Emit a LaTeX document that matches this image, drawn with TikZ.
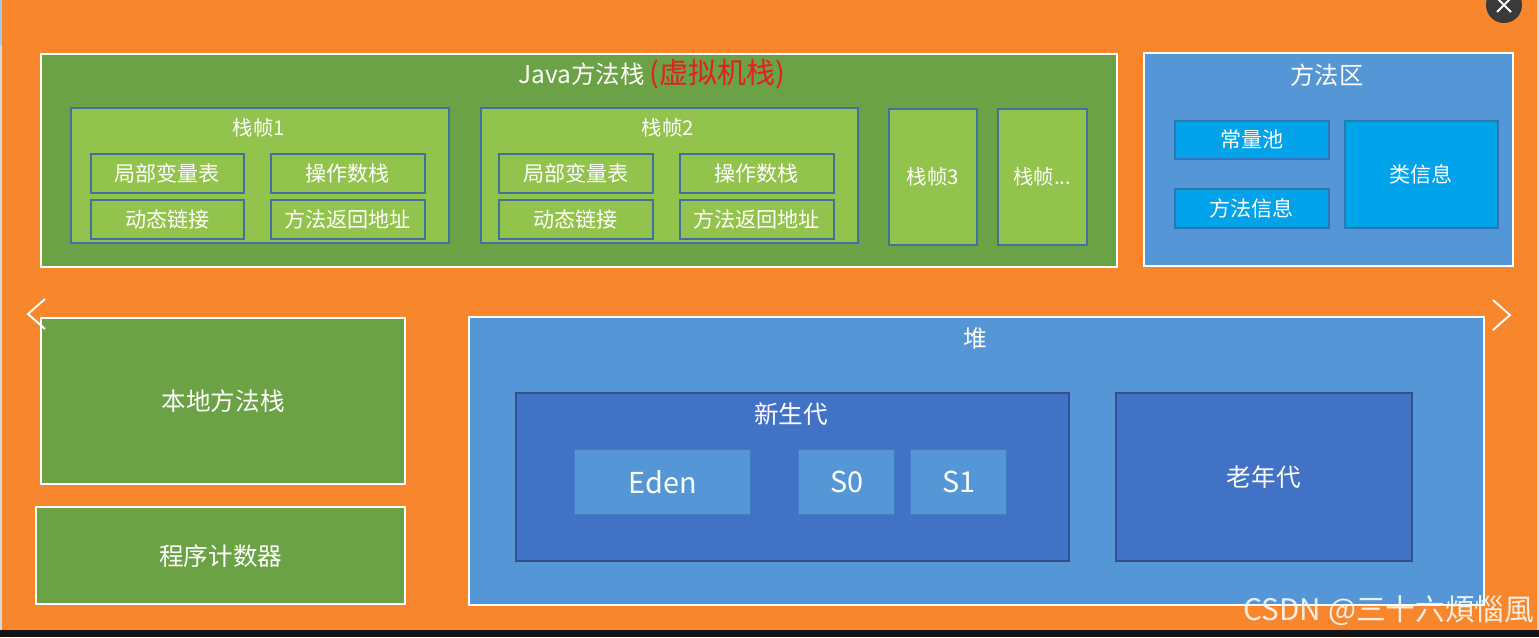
\documentclass[tikz,border=0pt]{standalone}
\usepackage{fontspec}
\setmainfont{Noto Sans CJK SC}
\usetikzlibrary{positioning}

\definecolor{bgorange}{RGB}{247,134,45}
\definecolor{barblack}{RGB}{20,20,20}
\definecolor{edgegray}{RGB}{215,215,215}
\definecolor{edgeblue}{RGB}{170,200,225}
\definecolor{stackgreen}{RGB}{107,162,69}
\definecolor{framegreen}{RGB}{146,195,77}
\definecolor{frameedge}{RGB}{65,113,156}
\definecolor{areablue}{RGB}{85,151,214}
\definecolor{cellblue}{RGB}{0,162,233}
\definecolor{celledge}{RGB}{46,117,182}
\definecolor{genblue}{RGB}{66,114,197}
\definecolor{genedge}{RGB}{47,82,143}
\definecolor{spaceedge}{RGB}{70,125,190}
\definecolor{titlered}{RGB}{232,28,36}
\definecolor{btngray}{RGB}{58,58,58}

\begin{document}
\begin{tikzpicture}[x=0.02cm, y=-0.02cm,
  wh/.style 2 args={minimum width=#1*0.02cm, minimum height=#2*0.02cm},
  areabox/.style={draw=white, line width=1.4pt, inner sep=0pt, anchor=north west, text=white, font=\fontsize{14}{16}\selectfont},
  framebox/.style={fill=framegreen, draw=frameedge, line width=0.9pt, inner sep=0pt, anchor=north west, text=white, font=\fontsize{11.6}{14}\selectfont},
  cellbox/.style={framebox, font=\fontsize{12}{14}\selectfont},
  poolbox/.style={fill=cellblue, draw=celledge, line width=0.9pt, inner sep=0pt, anchor=north west, text=white, font=\fontsize{12}{14}\selectfont},
  genbox/.style={fill=genblue, draw=genedge, line width=0.9pt, inner sep=0pt, anchor=north west, text=white, font=\fontsize{14}{16}\selectfont},
  spacebox/.style={fill=areablue, draw=spaceedge, line width=0.7pt, inner sep=0pt, anchor=north west, text=white, font=\fontsize{16.4}{18}\selectfont},
  heading/.style={text=white, inner sep=0pt}]

  % background
  \useasboundingbox (0,0) rectangle (1539,637);
  \fill[bgorange] (0,0) rectangle (1539,630);
  \fill[barblack] (0,630) rectangle (1539,637);
  \fill[edgegray] (0,0) rectangle (2,630);
  \fill[edgeblue] (0,0) rectangle (2,45);
  \fill[edgegray] (1537,0) rectangle (1539,630);

  % Java method stack
  \node[areabox, fill=stackgreen, wh={1076}{213}] (jstack) at (40,53) {};
  \node[heading, anchor=base, font=\fontsize{13.9}{16}\selectfont] (jtitle) at (652,83)
    {Java方法栈\hspace{3pt}{\color{titlered}\fontsize{16.5}{18}\selectfont(虚拟机栈)}};

  \node[framebox, wh={378}{135}] (f1) at (70,107) {};
  \node[heading, font=\fontsize{11.6}{14}\selectfont] (f1title) at (259,128) {栈帧1};
  \node[cellbox, wh={153}{39}] (lv1) at (90,153) {局部变量表};
  \node[cellbox, wh={154}{39}] (os1) at (270,153) {操作数栈};
  \node[cellbox, wh={153}{39}] (dl1) at (90,199) {动态链接};
  \node[cellbox, wh={154}{39}] (ra1) at (270,199) {方法返回地址};

  \node[framebox, wh={377}{135}] (f2) at (480,107) {};
  \node[heading, font=\fontsize{11.6}{14}\selectfont] (f2title) at (668,128) {栈帧2};
  \node[cellbox, wh={154}{39}] (lv2) at (498,153) {局部变量表};
  \node[cellbox, wh={154}{39}] (os2) at (679,153) {操作数栈};
  \node[cellbox, wh={154}{39}] (dl2) at (498,199) {动态链接};
  \node[cellbox, wh={154}{39}] (ra2) at (679,199) {方法返回地址};

  \node[framebox, wh={88}{136}] (f3) at (888,108) {栈帧3};
  \node[framebox, wh={89}{136}] (fn) at (997,108) {栈帧...};

  % method area
  \node[areabox, fill=areablue, wh={369}{213}] (marea) at (1143,52) {};
  \node[heading, font=\fontsize{13.8}{16}\selectfont] (matitle) at (1327,75) {方法区};
  \node[poolbox, wh={154}{38}] (cpool) at (1174,120) {常量池};
  \node[poolbox, wh={154}{39}] (minfo) at (1174,188) {方法信息};
  \node[poolbox, wh={153}{107}] (cinfo) at (1344,120) {类信息};

  % native stack and pc
  \node[areabox, fill=stackgreen, wh={364}{166}] (nstack) at (40,317) {本地方法栈};
  \node[areabox, fill=stackgreen, wh={369}{97}] (pc) at (35,506) {程序计数器};

  % heap
  \node[areabox, fill=areablue, wh={1015}{288}] (heap) at (468,316) {};
  \node[heading, font=\fontsize{13.5}{16}\selectfont] (htitle) at (975,339) {堆};
  \node[genbox, wh={553}{168}] (young) at (515,392) {};
  \node[heading, font=\fontsize{14}{16}\selectfont] (ytitle) at (791,414) {新生代};
  \node[spacebox, wh={176}{65}] (eden) at (574,449) {Eden};
  \node[spacebox, wh={96}{65}] (s0) at (798,449) {S0};
  \node[spacebox, wh={96}{65}] (s1) at (910,449) {S1};
  \node[genbox, wh={296}{168}] (old) at (1115,392) {老年代};

  % viewer overlay
  \node[circle, fill=btngray, inner sep=0pt, minimum size=36*0.02cm] (closebtn) at (1504,5) {};
  \draw[white, line width=1.1pt] ([shift={(-7,-7)}]closebtn.center) -- ([shift={(7,7)}]closebtn.center);
  \draw[white, line width=1.1pt] ([shift={(-7,7)}]closebtn.center) -- ([shift={(7,-7)}]closebtn.center);
  \draw[white, line width=1.1pt] (45,299) -- (28,314) -- (45,329);
  \draw[white, line width=1.1pt] (1493,300) -- (1510,315) -- (1493,330);
  \node[heading, text opacity=0.85, anchor=base, font=\fontsize{16.9}{19}\selectfont] (mark) at (1389,620) {CSDN @三十六煩惱風};
\end{tikzpicture}
\end{document}
